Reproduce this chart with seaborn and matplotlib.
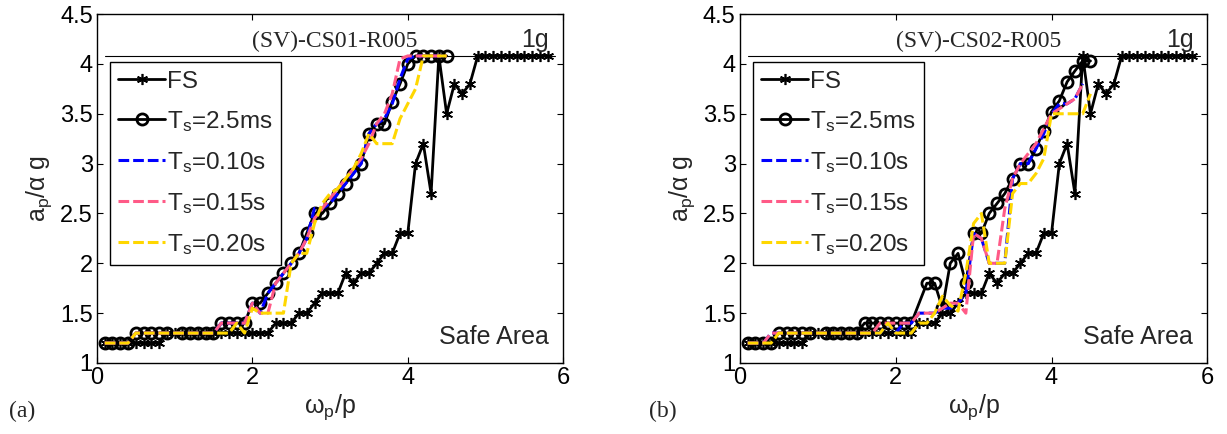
import numpy as np
import pandas as pd
import matplotlib
matplotlib.use("Agg")
import matplotlib.pyplot as plt
import seaborn as sns

sns.set_style("white")
plt.rcParams['font.family'] = ['Liberation Sans', 'DejaVu Sans']
plt.rcParams['mathtext.fontset'] = 'custom'
plt.rcParams['mathtext.rm'] = 'Liberation Sans'
plt.rcParams['mathtext.it'] = 'Liberation Sans:italic'

G1 = 4.08

# ---------------- data ----------------
fs_x = [0.1, 0.2, 0.3, 0.4, 0.5, 0.6, 0.7, 0.8, 0.9, 1.0, 1.1, 1.2, 1.3, 1.4, 1.5, 1.6, 1.7, 1.8, 1.9,
        2.0, 2.1, 2.2, 2.3, 2.4, 2.5, 2.6, 2.7, 2.8, 2.9, 3.0, 3.1, 3.2, 3.3, 3.4, 3.5, 3.6, 3.7, 3.8,
        3.9, 4.0, 4.1, 4.2, 4.3, 4.4, 4.5, 4.6, 4.7, 4.8, 4.9, 5.0, 5.1, 5.2, 5.3, 5.4, 5.5, 5.6, 5.7, 5.8]
fs_y = [1.2, 1.2, 1.2, 1.2, 1.2, 1.2, 1.2, 1.2, 1.3, 1.3, 1.3, 1.3, 1.3, 1.3, 1.3, 1.3, 1.3, 1.3, 1.3,
        1.3, 1.3, 1.3, 1.4, 1.4, 1.4, 1.5, 1.5, 1.6, 1.7, 1.7, 1.7, 1.9, 1.8, 1.9, 1.9, 2.0, 2.1, 2.1,
        2.3, 2.3, 3.0, 3.2, 2.7, 4.08, 3.5, 3.8, 3.7, 3.8, 4.08, 4.08, 4.08, 4.08, 4.08, 4.08, 4.08, 4.08, 4.08, 4.08]

# panel (a)
a_ms_x = [0.1, 0.2, 0.3, 0.4, 0.5, 0.6, 0.7, 0.8, 0.9, 1.1, 1.2, 1.3, 1.4, 1.5, 1.6, 1.7, 1.8, 1.9,
          2.0, 2.1, 2.2, 2.3, 2.4, 2.5, 2.6, 2.7, 2.8, 2.9, 3.0, 3.1, 3.2, 3.3, 3.4, 3.5, 3.6, 3.7,
          3.8, 3.9, 4.0, 4.1, 4.2, 4.3, 4.4, 4.5]
a_ms_y = [1.2, 1.2, 1.2, 1.2, 1.3, 1.3, 1.3, 1.3, 1.3, 1.3, 1.3, 1.3, 1.3, 1.3, 1.4, 1.4, 1.4, 1.4,
          1.6, 1.6, 1.7, 1.8, 1.9, 2.0, 2.1, 2.3, 2.5, 2.5, 2.6, 2.7, 2.8, 2.9, 3.0, 3.3, 3.4, 3.4,
          3.62, 3.8, 4.0, 4.08, 4.08, 4.08, 4.08, 4.08]
ts_x = [0.1, 0.2, 0.3, 0.4, 0.5, 0.6, 0.7, 0.8, 0.9, 1.0, 1.1, 1.2, 1.3, 1.4, 1.5, 1.6, 1.7, 1.8, 1.9,
        2.0, 2.1, 2.2, 2.3, 2.4, 2.5, 2.6, 2.7, 2.8, 2.9, 3.0, 3.1, 3.2, 3.3, 3.4, 3.5, 3.6, 3.7,
        3.8, 3.9, 4.0, 4.1, 4.2, 4.3, 4.4, 4.5]
a_010_y = [1.2, 1.2, 1.2, 1.2, 1.3, 1.3, 1.3, 1.3, 1.3, 1.3, 1.3, 1.3, 1.3, 1.3, 1.3, 1.4, 1.4, 1.4, 1.4,
           1.6, 1.5, 1.7, 1.8, 1.9, 2.0, 2.1, 2.25, 2.55, 2.55, 2.6, 2.7, 2.8, 2.9, 3.0, 3.3, 3.4, 3.45,
           3.6, 3.85, 4.05, 4.08, 4.08, 4.08, 4.08, 4.08]
a_015_y = [1.2, 1.2, 1.2, 1.2, 1.3, 1.3, 1.3, 1.3, 1.3, 1.3, 1.3, 1.3, 1.3, 1.3, 1.3, 1.4, 1.4, 1.4, 1.4,
           1.6, 1.5, 1.5, 1.8, 1.9, 2.0, 2.1, 2.25, 2.45, 2.55, 2.65, 2.75, 2.85, 2.95, 3.05, 3.2, 3.4, 3.5,
           3.7, 4.05, 4.08, 4.08, 4.08, 4.08, 4.08, 4.08]
a_020_y = [1.2, 1.2, 1.2, 1.2, 1.3, 1.3, 1.3, 1.3, 1.3, 1.3, 1.3, 1.3, 1.3, 1.3, 1.3, 1.3, 1.3, 1.4, 1.3,
           1.55, 1.5, 1.5, 1.5, 1.5, 2.0, 2.1, 2.1, 2.4, 2.6, 2.7, 2.75, 2.85, 2.95, 3.1, 3.3, 3.2, 3.2,
           3.2, 3.45, 3.6, 3.75, 4.08, 4.08, 4.08, 4.08]

# panel (b)
b_ms_x = [0.1, 0.2, 0.3, 0.4, 0.5, 0.6, 0.7, 0.8, 0.9, 1.1, 1.2, 1.3, 1.4, 1.5, 1.6, 1.7, 1.8, 1.9,
          2.0, 2.1, 2.2, 2.4, 2.5, 2.6, 2.7, 2.8, 2.9, 3.0, 3.1, 3.2, 3.3, 3.4, 3.5, 3.6, 3.7, 3.8,
          3.9, 4.0, 4.1, 4.2, 4.3, 4.4, 4.5]
b_ms_y = [1.2, 1.2, 1.2, 1.2, 1.3, 1.3, 1.3, 1.3, 1.3, 1.3, 1.3, 1.3, 1.3, 1.3, 1.4, 1.4, 1.4, 1.4,
          1.4, 1.4, 1.4, 1.8, 1.8, 1.55, 2.0, 2.1, 1.8, 2.3, 2.3, 2.5, 2.6, 2.7, 2.85, 3.0, 3.0, 3.15,
          3.33, 3.52, 3.63, 3.82, 3.93, 4.03, 4.03]
tb_x = [0.1, 0.2, 0.3, 0.4, 0.5, 0.6, 0.7, 0.8, 0.9, 1.0, 1.1, 1.2, 1.3, 1.4, 1.5, 1.6, 1.7, 1.8, 1.9,
        2.0, 2.1, 2.2, 2.3, 2.4, 2.5, 2.6, 2.7, 2.8, 2.9, 3.0, 3.1, 3.2, 3.3, 3.4, 3.5, 3.6, 3.7,
        3.8, 3.9, 4.0, 4.1, 4.2, 4.3, 4.4]
b_010_y = [1.2, 1.2, 1.2, 1.3, 1.3, 1.3, 1.3, 1.3, 1.3, 1.3, 1.3, 1.3, 1.3, 1.3, 1.3, 1.3, 1.3, 1.3, 1.4,
           1.3, 1.4, 1.4, 1.5, 1.5, 1.5, 1.55, 1.55, 1.6, 1.7, 2.3, 2.25, 2.0, 2.0, 2.0, 2.85, 3.0, 3.0,
           3.15, 3.3, 3.5, 3.6, 3.6, 3.65, 3.8]
b_015_y = [1.2, 1.2, 1.2, 1.3, 1.3, 1.3, 1.3, 1.3, 1.3, 1.3, 1.3, 1.3, 1.3, 1.3, 1.3, 1.3, 1.3, 1.4, 1.4,
           1.4, 1.4, 1.4, 1.5, 1.5, 1.5, 1.55, 1.6, 1.6, 1.5, 2.3, 2.25, 2.0, 2.0, 2.55, 2.85, 3.0, 3.1,
           3.2, 3.35, 3.5, 3.55, 3.6, 3.65, 3.8]
b_020_x = [0.1, 0.2, 0.3, 0.4, 0.5, 0.6, 0.7, 0.8, 0.9, 1.0, 1.1, 1.2, 1.3, 1.4, 1.5, 1.6, 1.7, 1.8, 1.9,
           2.0, 2.1, 2.2, 2.3, 2.4, 2.5, 2.6, 2.7, 2.8, 2.9, 3.0, 3.1, 3.2, 3.3, 3.4, 3.5, 3.6, 3.7,
           3.8, 3.9, 4.0, 4.1, 4.2, 4.3, 4.4, 4.5]
b_020_y = [1.2, 1.2, 1.2, 1.2, 1.3, 1.3, 1.3, 1.3, 1.3, 1.3, 1.3, 1.3, 1.3, 1.3, 1.3, 1.3, 1.3, 1.3, 1.4,
           1.3, 1.3, 1.3, 1.4, 1.4, 1.5, 1.67, 1.58, 1.52, 1.9, 2.4, 2.5, 2.0, 2.0, 2.0, 2.7, 2.8, 2.8,
           2.9, 3.05, 3.5, 3.5, 3.5, 3.5, 3.5, 3.7]

labels = ['FS', 'T$_\\mathregular{s}$=2.5ms', 'T$_\\mathregular{s}$=0.10s',
          'T$_\\mathregular{s}$=0.15s', 'T$_\\mathregular{s}$=0.20s']
titles = ['(SV)-CS01-R005', '(SV)-CS02-R005']
panel_tags = ['(a)', '(b)']

BLUE = '#0000FF'
PINK = '#FF5A87'
YELLOW = '#FFD700'

fig = plt.figure(figsize=(12.27, 4.34), dpi=100)
ax_a = fig.add_axes([0.079, 0.1636, 0.380, 0.804])
ax_b = fig.add_axes([0.603, 0.1636, 0.381, 0.804])

panels = [
    (ax_a, a_ms_x, a_ms_y, (ts_x, a_010_y), (ts_x, a_015_y), (ts_x, a_020_y)),
    (ax_b, b_ms_x, b_ms_y, (tb_x, b_010_y), (tb_x, b_015_y), (b_020_x, b_020_y)),
]

SERIF = ['Liberation Serif', 'DejaVu Serif']
dash = (3.5, 1.3)
for i, (ax, msx, msy, s10, s15, s20) in enumerate(panels):
    ax.plot([0.1, 5.9], [G1, G1], color='black', lw=0.8, zorder=1)
    sns.lineplot(x=fs_x, y=fs_y, ax=ax, color='black', lw=2, marker=(6, 2, 0),
                 markersize=8, markeredgewidth=1.2, markeredgecolor='black',
                 label=labels[0], sort=False, estimator=None, zorder=3)
    sns.lineplot(x=msx, y=msy, ax=ax, color='black', lw=2, marker='o',
                 markersize=8, markerfacecolor='none', markeredgewidth=2,
                 markeredgecolor='black', label=labels[1], sort=False, estimator=None, zorder=4)
    sns.lineplot(x=s10[0], y=s10[1], ax=ax, color=BLUE, lw=2.2, dashes=False,
                 label=labels[2], sort=False, estimator=None, zorder=5)
    sns.lineplot(x=s15[0], y=s15[1], ax=ax, color=PINK, lw=2.2, dashes=False,
                 label=labels[3], sort=False, estimator=None, zorder=6)
    sns.lineplot(x=s20[0], y=s20[1], ax=ax, color=YELLOW, lw=2.2, dashes=False,
                 label=labels[4], sort=False, estimator=None, zorder=7)
    for ln in ax.get_lines()[3:]:
        ln.set_dashes(dash)

    ax.set_xlim(0, 6)
    ax.set_ylim(1, 4.5)
    ax.set_xticks([0, 2, 4, 6])
    ax.set_yticks([1, 1.5, 2, 2.5, 3, 3.5, 4, 4.5])
    ax.set_yticklabels(['1', '1.5', '2', '2.5', '3', '3.5', '4', '4.5'])
    ax.tick_params(direction='in', length=4, width=0.8, labelsize=17, top=True, right=True,
                   bottom=True, left=True, colors='black', pad=3)
    for sp in ax.spines.values():
        sp.set_color('black')
        sp.set_linewidth(1.0)
    ax.set_xlabel('ω$_\\mathregular{p}$/p', fontsize=18, labelpad=2)
    ax.set_ylabel('a$_\\mathregular{p}$/α g', fontsize=18, labelpad=4)

    ax.text(3.06, 4.12, titles[i], fontsize=17, family=SERIF, ha='center', va='bottom')
    ax.text(5.82, 4.12, '1g', fontsize=18, ha='right', va='bottom')
    ax.text(5.82, 1.26, 'Safe Area', fontsize=18, ha='right', va='center')

    leg = ax.legend(loc='upper left', bbox_to_anchor=(0.028, 0.862), fontsize=17.5,
                    frameon=True, fancybox=False, edgecolor='black', framealpha=1,
                    handlelength=1.9, handletextpad=0.1, labelspacing=0.66,
                    borderpad=0.35, borderaxespad=0, numpoints=1)
    leg.get_frame().set_linewidth(1.0)
    for h in leg.get_lines()[2:]:
        h.set_dashes(dash)

fig.text(0.007, 0.04, panel_tags[0], fontsize=17, family=SERIF)
fig.text(0.529, 0.04, panel_tags[1], fontsize=17, family=SERIF)

fig.savefig('out.png', dpi=100)
